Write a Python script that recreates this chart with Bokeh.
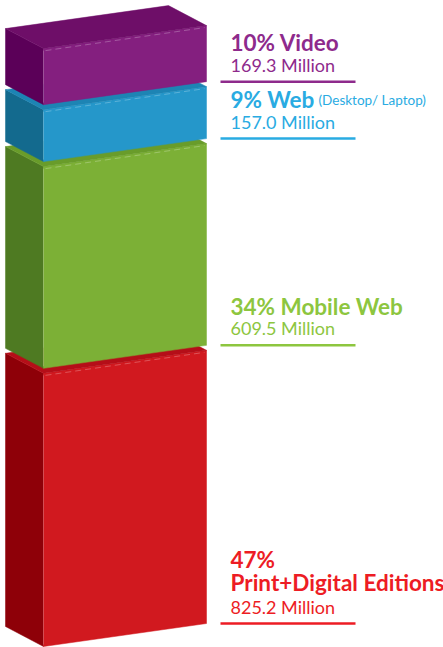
from bokeh.plotting import figure
from bokeh.models import Range1d
from bokeh.embed import file_html
from bokeh.resources import INLINE
from bokeh.core.properties import value

# ---- data (bottom to top) ----
categories = ["Print+Digital Editions", "Mobile Web", "Web", "Video"]
percents = ["47%", "34%", "9%", "10%"]
millions = [825.2, 609.5, 157.0, 169.3]
value_labels = ["825.2 Million", "609.5 Million", "157.0 Million", "169.3 Million"]
notes = ["", "", "(Desktop/ Laptop)", ""]

front_colors = ["#D1191F", "#7CB036", "#2597CA", "#841F7F"]
top_colors = ["#B50E18", "#699C2A", "#1D84B4", "#6E0E68"]
side_colors = ["#8E0008", "#4E7A22", "#136A8E", "#5B0058"]
text_colors = ["#ED1C24", "#8DC63F", "#29ABE2", "#8E2A8C"]

# ---- geometry (screen px) ----
K = 0.331            # px per million
X_BACK, X_FRONT, X_RIGHT, X_BACKR = 5, 43, 206, 168
RISE = 23 / K        # rise of the front-top edge over the front width
DEPTH = 20 / K       # vertical offset of the depth
GAP = 5 / K
TX = 230
TS = 8               # text baseline calibration (px)

p = figure(width=443, height=647, output_backend="svg", toolbar_location=None,
           x_range=Range1d(0, 443), y_range=Range1d(-1 / K, 646 / K),
           min_border=0)
p.axis.visible = False
p.grid.visible = False
p.outline_line_color = None
p.background_fill_color = "white"
p.border_fill_color = "white"

bottom = 0.0
for i, m in enumerate(millions):
    b = bottom
    t = b + m
    # left side face
    p.patch([X_BACK, X_FRONT, X_FRONT, X_BACK], [b + DEPTH, b, t, t + DEPTH],
            fill_color=side_colors[i], line_color=side_colors[i], line_width=0.5)
    # front face
    p.patch([X_FRONT, X_RIGHT, X_RIGHT, X_FRONT], [b, b + RISE, t + RISE, t],
            fill_color=front_colors[i], line_color=front_colors[i], line_width=0.5)
    # top face
    p.patch([X_FRONT, X_RIGHT, X_BACKR, X_BACK], [t, t + RISE, t + RISE + DEPTH, t + DEPTH],
            fill_color=top_colors[i], line_color=top_colors[i], line_width=0.5)
    # subtle highlight on the front-top edge and front-left edge
    p.line([X_FRONT + 2, X_RIGHT - 2], [t - 2 / K, t + RISE - 2 / K],
           line_color="white", line_alpha=0.25, line_width=1, line_dash="6 4")
    p.line([X_FRONT, X_FRONT], [b + 2 / K, t - 2 / K],
           line_color="white", line_alpha=0.2, line_width=1)

    # labels
    uy = b + RISE
    col = text_colors[i]
    p.line([220, 355], [uy, uy], line_color=col, line_width=2.5)
    p.text(x=[TX], y=[uy + (9 + TS) / K], text=[value_labels[i]], text_color=col,
           text_font=value("Lato"), text_font_size="18px", text_baseline="alphabetic")
    if i == 0:
        p.text(x=[TX], y=[uy + (33 + TS) / K], text=[categories[i]], text_color=col,
               text_font=value("Lato"), text_font_size="22.5px", text_font_style="bold",
               text_baseline="alphabetic")
        p.text(x=[TX], y=[uy + (56 + TS) / K], text=[percents[i]], text_color=col,
               text_font=value("Lato"), text_font_size="22.5px", text_font_style="bold",
               text_baseline="alphabetic")
    else:
        p.text(x=[TX], y=[uy + (31 + TS) / K], text=[percents[i] + " " + categories[i]],
               text_color=col, text_font=value("Lato"), text_font_size="22.5px",
               text_font_style="bold", text_baseline="alphabetic")
        if notes[i]:
            p.text(x=[318], y=[uy + (31 + TS) / K], text=[notes[i]], text_color=col,
                   text_font=value("Lato"), text_font_size="13.5px",
                   text_baseline="alphabetic")
    bottom = t + GAP

open("out.html", "w").write(file_html(p, INLINE))
